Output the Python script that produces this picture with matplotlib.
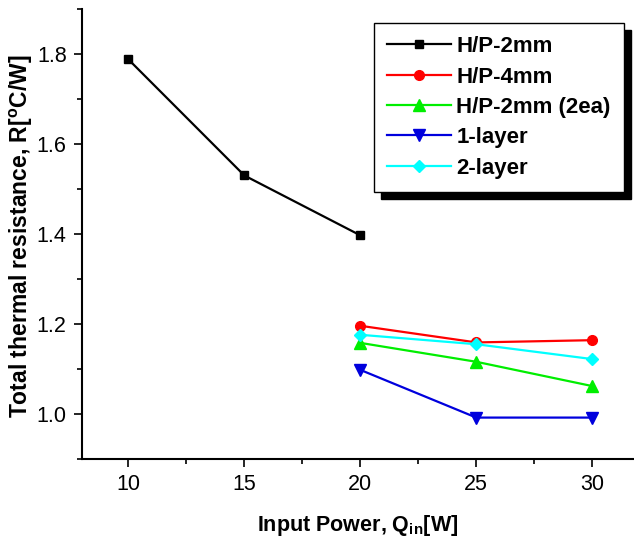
import numpy as np
import matplotlib
matplotlib.use('Agg')
import matplotlib.pyplot as plt
from matplotlib.ticker import MultipleLocator

plt.rcParams['font.family'] = 'Liberation Sans'
plt.rcParams['mathtext.fontset'] = 'custom'
plt.rcParams['mathtext.rm'] = 'Liberation Sans:bold'
plt.rcParams['mathtext.it'] = 'Liberation Sans:bold'
plt.rcParams['mathtext.bf'] = 'Liberation Sans:bold'

# data
x_hp2 = [10, 15, 20]
hp2 = [1.788, 1.530, 1.397]
x_rest = [20, 25, 30]
hp4 = [1.196, 1.159, 1.164]
hp2_2ea = [1.158, 1.116, 1.062]
layer1 = [1.098, 0.992, 0.992]
layer2 = [1.176, 1.155, 1.122]

fig = plt.figure(figsize=(6.34, 5.41), dpi=100)
ax = fig.add_axes([0.1293, 0.1516, 0.8707, 0.8318])

ax.plot(x_hp2, hp2, color='black', marker='s', ms=6, lw=1.6, label='H/P-2mm')
ax.plot(x_rest, hp4, color='red', marker='o', ms=7, lw=1.6, label='H/P-4mm')
ax.plot(x_rest, hp2_2ea, color='#00ee00', marker='^', ms=8, lw=1.6, label='H/P-2mm (2ea)')
ax.plot(x_rest, layer1, color='#0000dd', marker='v', ms=8, lw=1.6, label='1-layer')
ax.plot(x_rest, layer2, color='cyan', marker='D', ms=6, lw=1.6, label='2-layer')

ax.set_xlim(8, 31.8)
ax.set_ylim(0.9, 1.9)
ax.xaxis.set_major_locator(MultipleLocator(5))
ax.xaxis.set_minor_locator(MultipleLocator(2.5))
ax.yaxis.set_major_locator(MultipleLocator(0.2))
ax.yaxis.set_minor_locator(MultipleLocator(0.1))
ax.yaxis.set_major_formatter(plt.FormatStrFormatter('%.1f'))

ax.spines['top'].set_visible(False)
ax.spines['right'].set_visible(False)
ax.spines['left'].set_linewidth(1.5)
ax.spines['bottom'].set_linewidth(1.5)
ax.tick_params(which='major', direction='out', length=6, width=1.2, labelsize=15.5, pad=5)
ax.tick_params(which='minor', direction='out', length=3.5, width=1.2)

ax.set_xlabel('Input Power, Q$_{in}$[W]', fontsize=15.5, fontweight='bold', labelpad=13)
ax.set_ylabel('Total thermal resistance, R[$^{o}$C/W]', fontsize=16.5, fontweight='bold')
ax.yaxis.set_label_coords(-0.086, 0.496)

leg = ax.legend(loc='upper right', bbox_to_anchor=(0.982, 0.969), borderaxespad=0,
                prop={'weight': 'bold', 'size': 16}, frameon=True, fancybox=False,
                shadow={'color': 'black', 'alpha': 1, 'ox': 5, 'oy': -5},
                handlelength=2.85, handletextpad=0.25, borderpad=0.6, labelspacing=0.42)
leg.get_frame().set_edgecolor('black')
leg.get_frame().set_linewidth(1.0)

fig.savefig('out.png', dpi=100)
